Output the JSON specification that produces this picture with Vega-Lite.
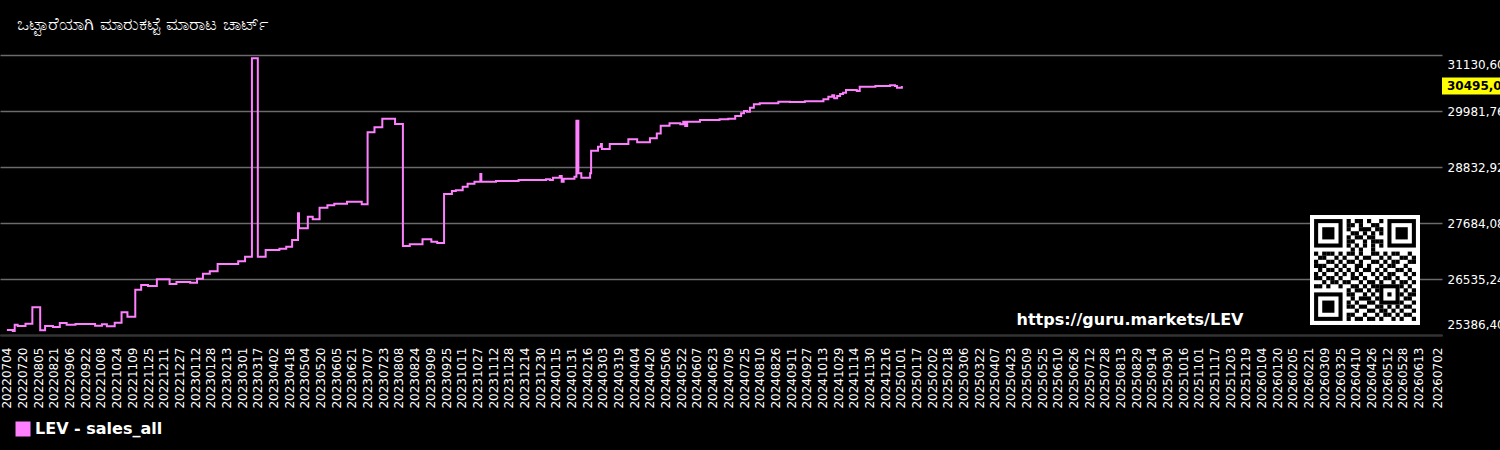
{
"$schema": "https://vega.github.io/schema/vega-lite/v6.json",
"width": 1442,
"height": 280,
"autosize": {"type": "none"},
"padding": {"left": 0, "top": 55, "right": 58, "bottom": 115},
"background": "#000000",
"title": {"text": "ಒಟ್ಟಾರೆಯಾಗಿ ಮಾರುಕಟ್ಟೆ ಮಾರಾಟ ಚಾರ್ಟ್", "anchor": "start", "frame": "group", "dx": 17, "offset": 20, "color": "#ffffff", "font": "DejaVu Sans", "fontSize": 18, "fontWeight": "normal"},
"config": {"view": {"stroke": null}, "font": "DejaVu Sans"},
"resolve": {"scale": {"x": "independent", "y": "independent"}},
"layer": [
{
"data": {"values": [
{"d":"2022-07-04","v":25489},{"d":"2022-07-10","v":25470},{"d":"2022-07-12","v":25597},{"d":"2022-07-15","v":25571},{"d":"2022-07-23","v":25618},{"d":"2022-07-30","v":25955},{"d":"2022-08-07","v":25483},{"d":"2022-08-12","v":25571},{"d":"2022-08-20","v":25550},{"d":"2022-08-27","v":25632},{"d":"2022-09-03","v":25597},{"d":"2022-09-12","v":25610},{"d":"2022-10-02","v":25577},{"d":"2022-10-09","v":25606},{"d":"2022-10-14","v":25565},{"d":"2022-10-22","v":25639},{"d":"2022-10-29","v":25852},{"d":"2022-11-04","v":25762},{"d":"2022-11-12","v":26316},{"d":"2022-11-18","v":26412},{"d":"2022-11-25","v":26392},{"d":"2022-12-04","v":26529},{"d":"2022-12-17","v":26433},{"d":"2022-12-24","v":26474},
{"d":"2023-01-07","v":26460},{"d":"2023-01-14","v":26541},{"d":"2023-01-20","v":26644},{"d":"2023-01-27","v":26693},{"d":"2023-02-04","v":26843},{"d":"2023-02-25","v":26898},{"d":"2023-03-04","v":26993},{"d":"2023-03-11","v":31063},{"d":"2023-03-17","v":26993},{"d":"2023-03-25","v":27130},{"d":"2023-04-08","v":27157},{"d":"2023-04-15","v":27198},{"d":"2023-04-21","v":27335},{"d":"2023-04-27","v":27883},{"d":"2023-04-28","v":27575},{"d":"2023-05-07","v":27814},{"d":"2023-05-12","v":27760},{"d":"2023-05-19","v":27998},{"d":"2023-05-27","v":28047},{"d":"2023-06-03","v":28080},{"d":"2023-06-16","v":28121},{"d":"2023-07-01","v":28067},{"d":"2023-07-07","v":29545},{"d":"2023-07-14","v":29647},{"d":"2023-07-22","v":29824},{"d":"2023-08-04","v":29715},{"d":"2023-08-12","v":27212},{"d":"2023-08-19","v":27246},{"d":"2023-09-01","v":27349},{"d":"2023-09-10","v":27301},{"d":"2023-09-16","v":27274},{"d":"2023-09-23","v":28279},{"d":"2023-10-01","v":28341},{"d":"2023-10-05","v":28355},{"d":"2023-10-12","v":28429},{"d":"2023-10-17","v":28490},{"d":"2023-10-24","v":28531},{"d":"2023-10-30","v":28689},{"d":"2023-10-31","v":28531},{"d":"2023-11-15","v":28545},{"d":"2023-12-08","v":28566},
{"d":"2024-01-05","v":28580},{"d":"2024-01-09","v":28566},{"d":"2024-01-12","v":28614},{"d":"2024-01-19","v":28648},{"d":"2024-01-21","v":28531},{"d":"2024-01-23","v":28593},{"d":"2024-02-03","v":28634},{"d":"2024-02-05","v":29783},{"d":"2024-02-07","v":28703},{"d":"2024-02-10","v":28614},{"d":"2024-02-19","v":28703},{"d":"2024-02-20","v":29168},{"d":"2024-02-27","v":29250},{"d":"2024-03-01","v":29305},{"d":"2024-03-02","v":29202},{"d":"2024-03-10","v":29305},{"d":"2024-03-29","v":29401},{"d":"2024-04-07","v":29339},{"d":"2024-04-20","v":29422},{"d":"2024-04-27","v":29520},{"d":"2024-05-01","v":29680},{"d":"2024-05-10","v":29729},{"d":"2024-05-21","v":29709},{"d":"2024-05-24","v":29762},{"d":"2024-05-26","v":29674},{"d":"2024-05-28","v":29762},{"d":"2024-06-10","v":29797},{"d":"2024-06-30","v":29811},{"d":"2024-07-09","v":29824},{"d":"2024-07-16","v":29879},{"d":"2024-07-22","v":29934},{"d":"2024-07-25","v":29982},{"d":"2024-07-28","v":29968},{"d":"2024-07-31","v":30049},{"d":"2024-08-04","v":30119},{"d":"2024-08-10","v":30140},{"d":"2024-08-29","v":30173},{"d":"2024-09-10","v":30166},{"d":"2024-09-25","v":30180},{"d":"2024-10-14","v":30221},{"d":"2024-10-19","v":30275},{"d":"2024-10-23","v":30303},{"d":"2024-10-25","v":30241},{"d":"2024-10-28","v":30289},{"d":"2024-10-31","v":30330},{"d":"2024-11-03","v":30357},{"d":"2024-11-06","v":30412},{"d":"2024-11-17","v":30392},{"d":"2024-11-20","v":30480},{"d":"2024-12-06","v":30494},{"d":"2024-12-21","v":30508},{"d":"2024-12-26","v":30494},{"d":"2024-12-28","v":30460},{"d":"2025-01-02","v":30495}
]},
"layer": [
{
"mark": {"type": "line", "interpolate": "step-after", "strokeWidth": 2},
"encoding": {
"x": {"field": "d", "type": "temporal",
 "scale": {"type": "utc", "domain": [{"year":2022,"month":6,"date":27,"utc":true},{"year":2026,"month":7,"date":7,"utc":true}]},
 "axis": {"title": null, "format": "%Y%m%d", "labelAngle": -90, "labelAlign": "right", "labelBaseline": "middle", "labelPadding": 12, "ticks": false, "grid": false, "domainColor": "#333333", "domainWidth": 2, "labelColor": "#ffffff", "labelFontSize": 12, "labelFont": "DejaVu Sans", "labelOverlap": false, "labelFlush": false, "labelBound": false, "tickCount": 500, "zindex": 1,
 "values": [
{"year":2022,"month":7,"date":4,"utc":true},{"year":2022,"month":7,"date":20,"utc":true},{"year":2022,"month":8,"date":5,"utc":true},{"year":2022,"month":8,"date":21,"utc":true},{"year":2022,"month":9,"date":6,"utc":true},{"year":2022,"month":9,"date":22,"utc":true},{"year":2022,"month":10,"date":8,"utc":true},{"year":2022,"month":10,"date":24,"utc":true},{"year":2022,"month":11,"date":9,"utc":true},{"year":2022,"month":11,"date":25,"utc":true},{"year":2022,"month":12,"date":11,"utc":true},{"year":2022,"month":12,"date":27,"utc":true},
{"year":2023,"month":1,"date":12,"utc":true},{"year":2023,"month":1,"date":28,"utc":true},{"year":2023,"month":2,"date":13,"utc":true},{"year":2023,"month":3,"date":1,"utc":true},{"year":2023,"month":3,"date":17,"utc":true},{"year":2023,"month":4,"date":2,"utc":true},{"year":2023,"month":4,"date":18,"utc":true},{"year":2023,"month":5,"date":4,"utc":true},{"year":2023,"month":5,"date":20,"utc":true},{"year":2023,"month":6,"date":5,"utc":true},{"year":2023,"month":6,"date":21,"utc":true},{"year":2023,"month":7,"date":7,"utc":true},{"year":2023,"month":7,"date":23,"utc":true},{"year":2023,"month":8,"date":8,"utc":true},{"year":2023,"month":8,"date":24,"utc":true},{"year":2023,"month":9,"date":9,"utc":true},{"year":2023,"month":9,"date":25,"utc":true},{"year":2023,"month":10,"date":11,"utc":true},{"year":2023,"month":10,"date":27,"utc":true},{"year":2023,"month":11,"date":12,"utc":true},{"year":2023,"month":11,"date":28,"utc":true},{"year":2023,"month":12,"date":14,"utc":true},{"year":2023,"month":12,"date":30,"utc":true},
{"year":2024,"month":1,"date":15,"utc":true},{"year":2024,"month":1,"date":31,"utc":true},{"year":2024,"month":2,"date":16,"utc":true},{"year":2024,"month":3,"date":3,"utc":true},{"year":2024,"month":3,"date":19,"utc":true},{"year":2024,"month":4,"date":4,"utc":true},{"year":2024,"month":4,"date":20,"utc":true},{"year":2024,"month":5,"date":6,"utc":true},{"year":2024,"month":5,"date":22,"utc":true},{"year":2024,"month":6,"date":7,"utc":true},{"year":2024,"month":6,"date":23,"utc":true},{"year":2024,"month":7,"date":9,"utc":true},{"year":2024,"month":7,"date":25,"utc":true},{"year":2024,"month":8,"date":10,"utc":true},{"year":2024,"month":8,"date":26,"utc":true},{"year":2024,"month":9,"date":11,"utc":true},{"year":2024,"month":9,"date":27,"utc":true},{"year":2024,"month":10,"date":13,"utc":true},{"year":2024,"month":10,"date":29,"utc":true},{"year":2024,"month":11,"date":14,"utc":true},{"year":2024,"month":11,"date":30,"utc":true},{"year":2024,"month":12,"date":16,"utc":true},
{"year":2025,"month":1,"date":1,"utc":true},{"year":2025,"month":1,"date":17,"utc":true},{"year":2025,"month":2,"date":2,"utc":true},{"year":2025,"month":2,"date":18,"utc":true},{"year":2025,"month":3,"date":6,"utc":true},{"year":2025,"month":3,"date":22,"utc":true},{"year":2025,"month":4,"date":7,"utc":true},{"year":2025,"month":4,"date":23,"utc":true},{"year":2025,"month":5,"date":9,"utc":true},{"year":2025,"month":5,"date":25,"utc":true},{"year":2025,"month":6,"date":10,"utc":true},{"year":2025,"month":6,"date":26,"utc":true},{"year":2025,"month":7,"date":12,"utc":true},{"year":2025,"month":7,"date":28,"utc":true},{"year":2025,"month":8,"date":13,"utc":true},{"year":2025,"month":8,"date":29,"utc":true},{"year":2025,"month":9,"date":14,"utc":true},{"year":2025,"month":9,"date":30,"utc":true},{"year":2025,"month":10,"date":16,"utc":true},{"year":2025,"month":11,"date":1,"utc":true},{"year":2025,"month":11,"date":17,"utc":true},{"year":2025,"month":12,"date":3,"utc":true},{"year":2025,"month":12,"date":19,"utc":true},
{"year":2026,"month":1,"date":4,"utc":true},{"year":2026,"month":1,"date":20,"utc":true},{"year":2026,"month":2,"date":5,"utc":true},{"year":2026,"month":2,"date":21,"utc":true},{"year":2026,"month":3,"date":9,"utc":true},{"year":2026,"month":3,"date":25,"utc":true},{"year":2026,"month":4,"date":10,"utc":true},{"year":2026,"month":4,"date":26,"utc":true},{"year":2026,"month":5,"date":12,"utc":true},{"year":2026,"month":5,"date":28,"utc":true},{"year":2026,"month":6,"date":13,"utc":true},{"year":2026,"month":7,"date":2,"utc":true}
 ]}},
"y": {"field": "v", "type": "quantitative",
 "scale": {"domain": [25386.4, 31130.6], "nice": false, "zero": false},
 "axis": {"title": null, "orient": "right", "values": [25386.4, 26535.24, 27684.08, 28832.92, 29981.76, 31130.6], "tickCount": 20, "labelExpr": "replace(format(datum.value, '.2f'), '.', ',')", "grid": true, "gridColor": "#6a6a6a", "gridWidth": 1.5, "domain": false, "ticks": false, "labelPadding": 5, "labelFlush": true, "labelFlushOffset": -4, "labelColor": "#ffffff", "labelFontSize": 12, "labelFont": "DejaVu Sans"}},
"color": {"datum": "LEV - sales_all", "type": "nominal", "scale": {"range": ["#ff80ff"]},
 "legend": {"title": null, "orient": "none", "legendX": 15, "legendY": 366, "symbolType": "square", "symbolSize": 225, "labelColor": "#ffffff", "labelFontSize": 16, "labelFontWeight": "bold", "labelFont": "DejaVu Sans",
  "encode": {"symbols": {"update": {"fill": {"value": "#ff80ff"}, "stroke": {"value": "#ff80ff"}, "strokeWidth": {"value": 0}}}}}}
}
},
{
"transform": [{"window": [{"op": "row_number", "as": "rn"}], "sort": [{"field": "d", "order": "descending"}]}, {"filter": "datum.rn === 1"}],
"mark": {"type": "rect", "color": "#ffff00", "yOffset": -8.5, "y2Offset": 8.5},
"encoding": {
"x": {"datum": {"year":2026,"month":7,"date":7,"utc":true}, "type": "temporal"},
"x2": {"datum": {"year":2026,"month":9,"date":30,"utc":true}},
"y": {"field": "v", "type": "quantitative"},
"y2": {"field": "v"}
}
},
{
"transform": [{"window": [{"op": "row_number", "as": "rn"}], "sort": [{"field": "d", "order": "descending"}]}, {"filter": "datum.rn === 1"}, {"calculate": "replace(format(datum.v, '.2f'), '.', ',')", "as": "lbl"}],
"mark": {"type": "text", "align": "left", "baseline": "middle", "dx": 5, "fontWeight": "bold", "fontSize": 12, "color": "#000000", "font": "DejaVu Sans"},
"encoding": {
"x": {"datum": {"year":2026,"month":7,"date":7,"utc":true}, "type": "temporal"},
"y": {"field": "v", "type": "quantitative"},
"text": {"field": "lbl"}
}
},
{
"data": {"values": [{"t": "https://guru.markets/LEV"}]},
"mark": {"type": "text", "align": "left", "baseline": "middle", "fontWeight": "bold", "fontSize": 16, "color": "#ffffff", "font": "DejaVu Sans"},
"encoding": {
"x": {"datum": {"year":2025,"month":4,"date":29,"utc":true}, "type": "temporal"},
"y": {"datum": 25694, "type": "quantitative"},
"text": {"field": "t"}
}
}
]
},
{
"data": {"values": [
{"c":12,"r":12,"p":"bg"},
{"c":3,"r":3,"p":"f"},{"c":21,"r":3,"p":"f"},{"c":3,"r":21,"p":"f"},
{"c":18,"r":18,"p":"a"},
{"c":8,"r":0,"p":"m"},{"c":10,"r":0,"p":"m"},{"c":11,"r":0,"p":"m"},{"c":13,"r":0,"p":"m"},{"c":16,"r":0,"p":"m"},
{"c":8,"r":1,"p":"m"},{"c":9,"r":1,"p":"m"},{"c":11,"r":1,"p":"m"},{"c":14,"r":1,"p":"m"},{"c":15,"r":1,"p":"m"},
{"c":8,"r":2,"p":"m"},{"c":11,"r":2,"p":"m"},{"c":12,"r":2,"p":"m"},{"c":13,"r":2,"p":"m"},{"c":15,"r":2,"p":"m"},{"c":16,"r":2,"p":"m"},
{"c":9,"r":3,"p":"m"},{"c":10,"r":3,"p":"m"},{"c":12,"r":3,"p":"m"},{"c":14,"r":3,"p":"m"},{"c":16,"r":3,"p":"m"},
{"c":8,"r":4,"p":"m"},{"c":10,"r":4,"p":"m"},{"c":11,"r":4,"p":"m"},{"c":13,"r":4,"p":"m"},{"c":14,"r":4,"p":"m"},
{"c":8,"r":5,"p":"m"},{"c":9,"r":5,"p":"m"},{"c":12,"r":5,"p":"m"},{"c":14,"r":5,"p":"m"},{"c":15,"r":5,"p":"m"},{"c":16,"r":5,"p":"m"},
{"c":8,"r":6,"p":"m"},{"c":10,"r":6,"p":"m"},{"c":12,"r":6,"p":"m"},{"c":14,"r":6,"p":"m"},{"c":16,"r":6,"p":"m"},
{"c":9,"r":7,"p":"m"},{"c":11,"r":7,"p":"m"},{"c":14,"r":7,"p":"m"},
{"c":0,"r":8,"p":"m"},{"c":2,"r":8,"p":"m"},{"c":3,"r":8,"p":"m"},{"c":4,"r":8,"p":"m"},{"c":6,"r":8,"p":"m"},{"c":8,"r":8,"p":"m"},{"c":9,"r":8,"p":"m"},{"c":11,"r":8,"p":"m"},{"c":14,"r":8,"p":"m"},{"c":15,"r":8,"p":"m"},{"c":17,"r":8,"p":"m"},{"c":19,"r":8,"p":"m"},{"c":20,"r":8,"p":"m"},{"c":23,"r":8,"p":"m"},
{"c":1,"r":9,"p":"m"},{"c":2,"r":9,"p":"m"},{"c":5,"r":9,"p":"m"},{"c":7,"r":9,"p":"m"},{"c":10,"r":9,"p":"m"},{"c":12,"r":9,"p":"m"},{"c":13,"r":9,"p":"m"},{"c":16,"r":9,"p":"m"},{"c":18,"r":9,"p":"m"},{"c":21,"r":9,"p":"m"},{"c":22,"r":9,"p":"m"},{"c":24,"r":9,"p":"m"},
{"c":0,"r":10,"p":"m"},{"c":3,"r":10,"p":"m"},{"c":4,"r":10,"p":"m"},{"c":6,"r":10,"p":"m"},{"c":8,"r":10,"p":"m"},{"c":9,"r":10,"p":"m"},{"c":11,"r":10,"p":"m"},{"c":14,"r":10,"p":"m"},{"c":15,"r":10,"p":"m"},{"c":17,"r":10,"p":"m"},{"c":19,"r":10,"p":"m"},{"c":20,"r":10,"p":"m"},{"c":23,"r":10,"p":"m"},{"c":24,"r":10,"p":"m"},
{"c":0,"r":11,"p":"m"},{"c":1,"r":11,"p":"m"},{"c":2,"r":11,"p":"m"},{"c":5,"r":11,"p":"m"},{"c":7,"r":11,"p":"m"},{"c":10,"r":11,"p":"m"},{"c":11,"r":11,"p":"m"},{"c":13,"r":11,"p":"m"},{"c":16,"r":11,"p":"m"},{"c":18,"r":11,"p":"m"},{"c":19,"r":11,"p":"m"},{"c":22,"r":11,"p":"m"},
{"c":1,"r":12,"p":"m"},{"c":3,"r":12,"p":"m"},{"c":4,"r":12,"p":"m"},{"c":6,"r":12,"p":"m"},{"c":8,"r":12,"p":"m"},{"c":10,"r":12,"p":"m"},{"c":12,"r":12,"p":"m"},{"c":13,"r":12,"p":"m"},{"c":15,"r":12,"p":"m"},{"c":17,"r":12,"p":"m"},{"c":20,"r":12,"p":"m"},{"c":21,"r":12,"p":"m"},{"c":23,"r":12,"p":"m"},
{"c":0,"r":13,"p":"m"},{"c":2,"r":13,"p":"m"},{"c":5,"r":13,"p":"m"},{"c":7,"r":13,"p":"m"},{"c":9,"r":13,"p":"m"},{"c":11,"r":13,"p":"m"},{"c":14,"r":13,"p":"m"},{"c":16,"r":13,"p":"m"},{"c":18,"r":13,"p":"m"},{"c":19,"r":13,"p":"m"},{"c":22,"r":13,"p":"m"},{"c":24,"r":13,"p":"m"},
{"c":0,"r":14,"p":"m"},{"c":1,"r":14,"p":"m"},{"c":3,"r":14,"p":"m"},{"c":4,"r":14,"p":"m"},{"c":6,"r":14,"p":"m"},{"c":9,"r":14,"p":"m"},{"c":10,"r":14,"p":"m"},{"c":12,"r":14,"p":"m"},{"c":15,"r":14,"p":"m"},{"c":17,"r":14,"p":"m"},{"c":18,"r":14,"p":"m"},{"c":20,"r":14,"p":"m"},{"c":23,"r":14,"p":"m"},
{"c":2,"r":15,"p":"m"},{"c":4,"r":15,"p":"m"},{"c":5,"r":15,"p":"m"},{"c":7,"r":15,"p":"m"},{"c":8,"r":15,"p":"m"},{"c":11,"r":15,"p":"m"},{"c":13,"r":15,"p":"m"},{"c":14,"r":15,"p":"m"},{"c":16,"r":15,"p":"m"},{"c":19,"r":15,"p":"m"},{"c":21,"r":15,"p":"m"},{"c":22,"r":15,"p":"m"},{"c":24,"r":15,"p":"m"},
{"c":0,"r":16,"p":"m"},{"c":1,"r":16,"p":"m"},{"c":3,"r":16,"p":"m"},{"c":6,"r":16,"p":"m"},{"c":9,"r":16,"p":"m"},{"c":10,"r":16,"p":"m"},{"c":12,"r":16,"p":"m"},{"c":14,"r":16,"p":"m"},{"c":15,"r":16,"p":"m"},{"c":21,"r":16,"p":"m"},{"c":23,"r":16,"p":"m"},
{"c":8,"r":17,"p":"m"},{"c":10,"r":17,"p":"m"},{"c":11,"r":17,"p":"m"},{"c":13,"r":17,"p":"m"},{"c":15,"r":17,"p":"m"},{"c":22,"r":17,"p":"m"},{"c":24,"r":17,"p":"m"},
{"c":8,"r":18,"p":"m"},{"c":9,"r":18,"p":"m"},{"c":12,"r":18,"p":"m"},{"c":14,"r":18,"p":"m"},{"c":21,"r":18,"p":"m"},{"c":23,"r":18,"p":"m"},{"c":24,"r":18,"p":"m"},
{"c":9,"r":19,"p":"m"},{"c":11,"r":19,"p":"m"},{"c":12,"r":19,"p":"m"},{"c":13,"r":19,"p":"m"},{"c":15,"r":19,"p":"m"},{"c":22,"r":19,"p":"m"},{"c":23,"r":19,"p":"m"},
{"c":8,"r":20,"p":"m"},{"c":10,"r":20,"p":"m"},{"c":13,"r":20,"p":"m"},{"c":14,"r":20,"p":"m"},{"c":21,"r":20,"p":"m"},{"c":24,"r":20,"p":"m"},
{"c":8,"r":21,"p":"m"},{"c":9,"r":21,"p":"m"},{"c":11,"r":21,"p":"m"},{"c":12,"r":21,"p":"m"},{"c":15,"r":21,"p":"m"},{"c":16,"r":21,"p":"m"},{"c":18,"r":21,"p":"m"},{"c":20,"r":21,"p":"m"},{"c":22,"r":21,"p":"m"},{"c":23,"r":21,"p":"m"},
{"c":10,"r":22,"p":"m"},{"c":13,"r":22,"p":"m"},{"c":14,"r":22,"p":"m"},{"c":16,"r":22,"p":"m"},{"c":17,"r":22,"p":"m"},{"c":19,"r":22,"p":"m"},{"c":21,"r":22,"p":"m"},{"c":24,"r":22,"p":"m"},
{"c":8,"r":23,"p":"m"},{"c":9,"r":23,"p":"m"},{"c":12,"r":23,"p":"m"},{"c":15,"r":23,"p":"m"},{"c":17,"r":23,"p":"m"},{"c":18,"r":23,"p":"m"},{"c":20,"r":23,"p":"m"},{"c":22,"r":23,"p":"m"},{"c":23,"r":23,"p":"m"},
{"c":8,"r":24,"p":"m"},{"c":10,"r":24,"p":"m"},{"c":11,"r":24,"p":"m"},{"c":13,"r":24,"p":"m"},{"c":14,"r":24,"p":"m"},{"c":16,"r":24,"p":"m"},{"c":19,"r":24,"p":"m"},{"c":21,"r":24,"p":"m"},{"c":24,"r":24,"p":"m"}
]},
"encoding": {
"x": {"field": "c", "type": "quantitative", "scale": {"domain": [-323.05, 30.9], "nice": false, "zero": false}, "axis": null},
"y": {"field": "r", "type": "quantitative", "scale": {"domain": [-40.77, 27.96], "nice": false, "zero": false, "reverse": true}, "axis": null}
},
"layer": [
{"transform": [{"filter": "datum.p === 'bg'"}], "mark": {"type": "point", "shape": "square", "filled": true, "color": "#ffffff", "opacity": 1, "size": 12100, "strokeWidth": 0}},
{"transform": [{"filter": "datum.p === 'f'"}], "mark": {"type": "point", "shape": "square", "filled": true, "color": "#000000", "opacity": 1, "size": 813, "strokeWidth": 0}},
{"transform": [{"filter": "datum.p === 'f' || datum.p === 'a'"}], "mark": {"type": "point", "shape": "square", "filled": true, "color": "#ffffff", "opacity": 1, "size": 415, "strokeWidth": 0}},
{"transform": [{"filter": "datum.p === 'a'"}], "mark": {"type": "point", "shape": "square", "filled": true, "color": "#000000", "opacity": 1, "size": 415, "strokeWidth": 0}},
{"transform": [{"filter": "datum.p === 'f'"}], "mark": {"type": "point", "shape": "square", "filled": true, "color": "#000000", "opacity": 1, "size": 149, "strokeWidth": 0}},
{"transform": [{"filter": "datum.p === 'a'"}], "mark": {"type": "point", "shape": "square", "filled": true, "color": "#ffffff", "opacity": 1, "size": 149, "strokeWidth": 0}},
{"transform": [{"filter": "datum.p === 'a' || datum.p === 'm'"}], "mark": {"type": "point", "shape": "square", "filled": true, "color": "#000000", "opacity": 1, "size": 17.5, "strokeWidth": 0}}
]
}
]
}
